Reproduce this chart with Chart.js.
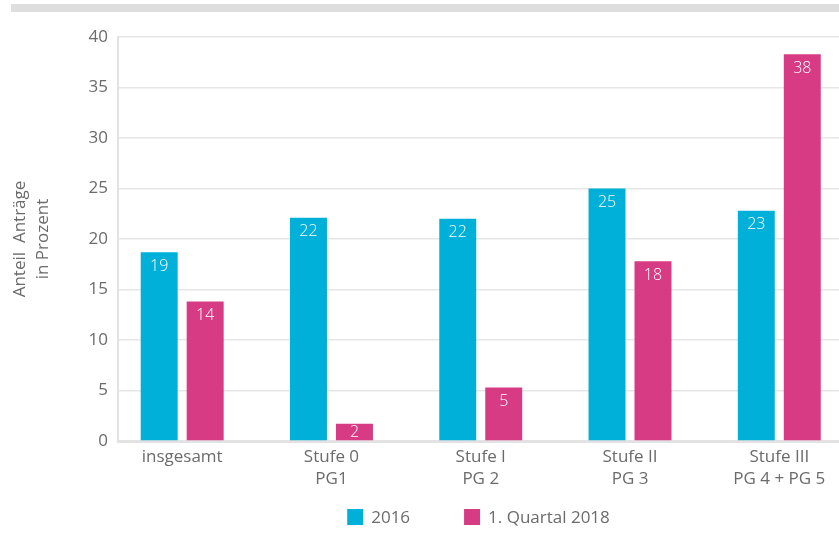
<!DOCTYPE html>
<html>
<head>
<meta charset="utf-8">
<script src="https://cdn.jsdelivr.net/npm/chart.js@4/dist/chart.umd.min.js"></script>
<style>
  html, body { margin: 0; padding: 0; background: #fff; }
  #wrap { position: relative; width: 839px; height: 534px; }
  #topbar { position: absolute; left: 11px; top: 4px; width: 828px; height: 8px; background: #dedede; }
  canvas { position: absolute; left: 0; top: 0; }
</style>
</head>
<body>
<div id="wrap">
  <div id="topbar"></div>
  <canvas id="c" width="839" height="534"></canvas>
</div>
<script>
const categories = [['insgesamt'], ['Stufe 0', 'PG1'], ['Stufe I', 'PG 2'], ['Stufe II', 'PG 3'], ['Stufe III', 'PG 4 + PG 5']];
const seriesNames = ['2016', '1. Quartal 2018'];
const values2016 = [18.7, 22.1, 22.0, 25.0, 22.8];
const values2018 = [13.8, 1.7, 5.3, 17.8, 38.3];
const yTicks = [0, 5, 10, 15, 20, 25, 30, 35, 40];
const yTitle = ['Anteil  Anträge', 'in Prozent'];

const textColor = '#6b6b6b';
const fontFamily = '"Open Sans", "DejaVu Sans", sans-serif';

const valueLabels = {
  id: 'valueLabels',
  afterDatasetsDraw(chart) {
    const ctx = chart.ctx;
    ctx.save();
    ctx.fillStyle = '#ffffff';
    ctx.font = '300 16px ' + fontFamily;
    ctx.textAlign = 'center';
    ctx.textBaseline = 'middle';
    chart.data.datasets.forEach((ds, di) => {
      const meta = chart.getDatasetMeta(di);
      meta.data.forEach((bar, i) => {
        const v = ds.data[i].y;
        const yy = Math.min(bar.y + 14, (bar.y + bar.base) / 2);
        ctx.fillText(String(Math.round(v)), bar.x, yy);
      });
    });
    ctx.restore();
  }
};

// Legend drawn below the chart, centred under the plot area
const bottomLegend = {
  id: 'bottomLegend',
  afterDraw(chart) {
    const ctx = chart.ctx;
    const box = 16, textGap = 8, itemGap = 54;
    ctx.save();
    ctx.font = '17px ' + fontFamily;
    ctx.textBaseline = 'middle';
    ctx.textAlign = 'left';
    const items = chart.data.datasets.map(ds => ({
      label: ds.label, color: ds.backgroundColor, w: box + textGap + ctx.measureText(ds.label).width
    }));
    const total = items.reduce((s, it) => s + it.w, 0) + itemGap * (items.length - 1);
    const cx = (chart.chartArea.left + chart.chartArea.right) / 2;
    const cy = chart.chartArea.bottom + 76;
    let x = cx - total / 2;
    items.forEach(it => {
      ctx.fillStyle = it.color;
      ctx.fillRect(x, cy - box / 2, box, box);
      ctx.fillStyle = textColor;
      ctx.fillText(it.label, x + box + textGap, cy + 1);
      x += it.w + itemGap;
    });
    ctx.restore();
  }
};

new Chart(document.getElementById('c'), {
  type: 'bar',
  data: {
    datasets: [
      {
        label: seriesNames[0],
        data: values2016.map((v, i) => ({ x: i, y: v })),
        backgroundColor: '#00b0d9',
        categoryPercentage: 0.616,
        barPercentage: 0.804
      },
      {
        label: seriesNames[1],
        data: values2018.map((v, i) => ({ x: i, y: v })),
        backgroundColor: '#d63b83',
        categoryPercentage: 0.616,
        barPercentage: 0.804
      }
    ]
  },
  options: {
    responsive: false,
    animation: false,
    layout: { padding: { left: 5, right: 0, top: 37, bottom: 41 } },
    plugins: {
      legend: { display: false },
      tooltip: { enabled: false }
    },
    scales: {
      x: {
        type: 'linear',
        offset: false,
        min: -0.43,
        max: 4.4,
        afterBuildTicks: s => { s.ticks = categories.map((_, i) => ({ value: i })); },
        afterFit: s => { s.height = 52; },
        grid: { display: false, drawTicks: false, offset: false },
        border: { display: true, color: '#e2e2e2', width: 3 },
        ticks: {
          autoSkip: false,
          maxRotation: 0,
          padding: 5,
          color: textColor,
          font: { family: fontFamily, size: 17, lineHeight: 1.3 },
          callback: v => categories[v]
        }
      },
      y: {
        min: 0,
        max: 40,
        afterBuildTicks: s => { s.ticks = yTicks.map(v => ({ value: v })); },
        afterFit: s => { s.width = 113; },
        grid: { color: '#e6e6e6', lineWidth: 1.5, drawTicks: false },
        border: { display: true, color: '#e2e2e2', width: 2 },
        ticks: {
          padding: 10,
          color: textColor,
          font: { family: fontFamily, size: 17 }
        },
        title: {
          display: true,
          text: yTitle,
          color: textColor,
          padding: { top: 4, bottom: 4 },
          font: { family: fontFamily, size: 17, lineHeight: 1.35 }
        }
      }
    }
  },
  plugins: [valueLabels, bottomLegend]
});
</script>
</body>
</html>
